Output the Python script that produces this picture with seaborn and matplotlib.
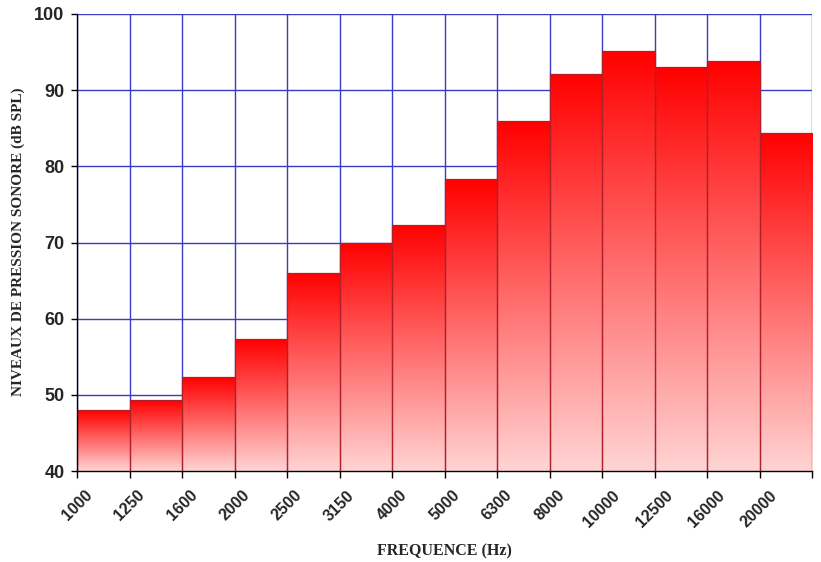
import numpy as np
import pandas as pd
import matplotlib
matplotlib.use("Agg")
import matplotlib.pyplot as plt
import seaborn as sns
from matplotlib.colors import LinearSegmentedColormap

freqs = ["1000", "1250", "1600", "2000", "2500", "3150", "4000", "5000",
         "6300", "8000", "10000", "12500", "16000", "20000"]
levels = [48.0, 49.3, 52.3, 57.3, 66.0, 70.0, 72.3, 78.3, 85.9, 92.1,
          95.2, 93.0, 93.8, 84.4]
yticks = [40, 50, 60, 70, 80, 90, 100]

df = pd.DataFrame({"freq": freqs, "level": levels})

sns.set_theme(style="white")
plt.rcParams["font.family"] = ["Liberation Sans", "DejaVu Sans"]

W, H = 821, 562
fig = plt.figure(figsize=(W/100, H/100), dpi=100)
ax = fig.add_axes([77/W, 1-471/H, (812-77)/W, (471-14)/H])

sns.barplot(data=df, x="freq", y="level", width=1.0, color="red",
            edgecolor="#b0202a", linewidth=0.9, ax=ax, zorder=2)

ymin, ymax = 40, 100
ax.set_ylim(ymin, ymax)
ax.set_xlim(-0.5, len(freqs) - 0.5)

cmap = LinearSegmentedColormap.from_list("g", ["#ffd4d4", "#ff0000"])
grad = np.linspace(0, 1, 256).reshape(-1, 1)
for p in ax.patches:
    x0 = p.get_x()
    w = p.get_width()
    h = p.get_height()
    im = ax.imshow(grad, cmap=cmap, aspect="auto", origin="lower",
                   extent=[x0, x0 + w, ymin, h], zorder=2.5,
                   interpolation="bilinear")
    im.set_clip_path(p)
    p.set_facecolor("none")
    p.set_zorder(3)

ax.set_xlim(-0.5, len(freqs) - 0.5)
ax.set_ylim(ymin, ymax)

# grid lines
for yv in yticks[1:]:
    ax.axhline(yv, color="#3a3ac8", lw=1.0, zorder=1)
for xv in np.arange(len(freqs) + 1) - 0.5:
    ax.axvline(xv, color="#3a3ac8", lw=1.0, zorder=1)

ax.set_yticks(yticks)
ax.set_yticklabels([str(v) for v in yticks], fontsize=13, fontweight="bold")
ax.set_xticks(np.arange(len(freqs) + 1) - 0.5)
ax.set_xticklabels(freqs + [""], rotation=45, ha="center", fontsize=11.5,
                   fontweight="bold")
ax.tick_params(axis="x", bottom=True, length=5, width=1, color="black",
               pad=7)
ax.tick_params(axis="y", left=True, length=4, width=1, color="black", pad=5)

for side in ["top", "right"]:
    ax.spines[side].set_visible(False)
ax.spines["left"].set_color("black")
ax.spines["bottom"].set_color("black")
ax.spines["left"].set_linewidth(1.0)
ax.spines["bottom"].set_linewidth(1.0)
ax.spines["left"].set_zorder(5)
ax.spines["bottom"].set_zorder(5)

ax.set_xlabel("")
ax.set_ylabel("")
serif = ["Liberation Serif", "DejaVu Serif"]
fig.text(444/W, 1-551/H, "FREQUENCE (Hz)", fontsize=11.5, fontweight="bold",
         family=serif, ha="center", va="center")
fig.text(18/W, 1-242/H, "NIVEAUX DE PRESSION SONORE (dB SPL)", fontsize=11,
         fontweight="bold", family=serif, ha="center", va="center",
         rotation=90)

fig.savefig("out.png", dpi=100)
